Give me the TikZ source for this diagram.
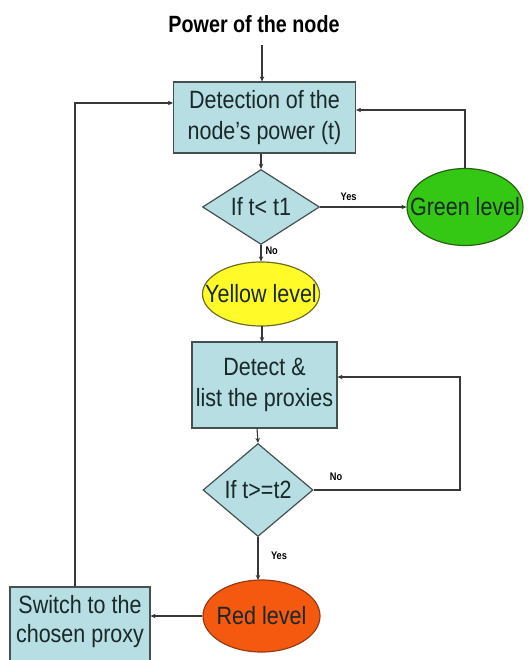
\documentclass[tikz,border=0pt]{standalone}
\usepackage{fontspec}
\setmainfont{Liberation Sans}[FakeStretch=0.86]
\newfontfamily\titlefont{Liberation Sans}[FakeStretch=0.84]
\usetikzlibrary{shapes.geometric,arrows.meta}
\definecolor{boxfill}{RGB}{183,222,226}
\definecolor{boxline}{RGB}{70,80,80}
\definecolor{txt}{RGB}{25,40,40}
\definecolor{greenfill}{RGB}{52,200,20}
\definecolor{greenline}{RGB}{40,95,20}
\definecolor{yellowfill}{RGB}{255,250,40}
\definecolor{yellowline}{RGB}{110,110,40}
\definecolor{redfill}{RGB}{245,88,15}
\definecolor{redline}{RGB}{150,60,20}
\definecolor{wire}{RGB}{55,55,55}
\begin{document}
\begin{tikzpicture}[x=1pt,y=-1pt,
  procbox/.style={draw=boxline,line width=1.2pt,fill=boxfill,text=txt,align=center,
     font=\fontsize{25}{31}\selectfont,inner sep=0pt},
  decide/.style={diamond,draw=boxline,line width=1.2pt,fill=boxfill,inner sep=0pt},
  level/.style={ellipse,line width=1.2pt,inner sep=0pt},
  dtext/.style={text=txt,font=\fontsize{25}{31}\selectfont,inner sep=0pt},
  arr/.style={draw=wire,line width=1.1pt,-{Stealth[length=5pt,width=4.5pt]}},
  tag/.style={font=\titlefont\bfseries\fontsize{11}{13}\selectfont,text=black,inner sep=0pt}]
\useasboundingbox (0,0) rectangle (527,660);
\begin{scope}
\clip (0,0) rectangle (527,660);

\node[font=\titlefont\bfseries\fontsize{23.5}{28}\selectfont,inner sep=0pt] (title) at (254,24) {Power of the node};
\coordinate (pin) at (262,45);

\node[procbox,minimum width=182pt,minimum height=71pt] (b1) at (264.5,117.5) {Detection of the\\node’s power (t)};
\node[decide,minimum width=117pt,minimum height=75pt] (d1) at (261,207) {};
\node[dtext] at (d1) {If t< t1};
\node[level,draw=greenline,fill=greenfill,minimum width=116pt,minimum height=77pt] (g) at (465,207) {};
\node[dtext] at (g) {Green level};
\node[level,draw=yellowline,fill=yellowfill,minimum width=117pt,minimum height=64pt] (y) at (261,294) {};
\node[dtext] at (y) {Yellow level};
\node[procbox,minimum width=145pt,minimum height=86pt] (b2) at (264.5,385) {Detect \&\\list the proxies};
\node[decide,minimum width=110pt,minimum height=93pt] (d2) at (258,490) {};
\node[dtext] at (d2) {If t>=t2};
\node[level,draw=redline,fill=redfill,minimum width=117pt,minimum height=72pt] (r) at (261.5,616) {};
\node[dtext] at (r) {Red level};
\node[procbox,minimum width=140pt,minimum height=80pt] (b3) at (80,627) {};
\node[dtext,align=center,font=\fontsize{25}{29}\selectfont] at (80,622) {Switch to the\\chosen proxy};

\draw[arr] (pin) -- (pin |- b1.north);
\draw[arr] (d1.north |- b1.south) -- (d1.north);
\draw[arr] (d1.east) -- (g.west) node[tag,pos=0.33,above=6pt] {Yes};
\draw[arr] (g.north) -- (g.north |- 0,110) -- (b1.east |- 0,110);
\draw[arr] (d1.south) -- (y.north) node[tag,pos=0.35,right=4pt] {No};
\draw[arr] (262,326) -- (262,342);
\draw[arr] (257,428) -- (d2.north);
\draw[arr] (d2.east) -- (460,490) -- (460,377) -- (b2.east |- 0,377);
\node[tag] at (336,477) {No};
\draw[arr] (d2.south) -- (258,580);
\node[tag] at (279,556) {Yes};
\draw[arr] (r.west) -- (b3.east |- r.west);
\draw[arr] (b3.north -| 75,0) -- (75,103) -- (b1.west |- 0,103);
\end{scope}
\end{tikzpicture}
\end{document}
